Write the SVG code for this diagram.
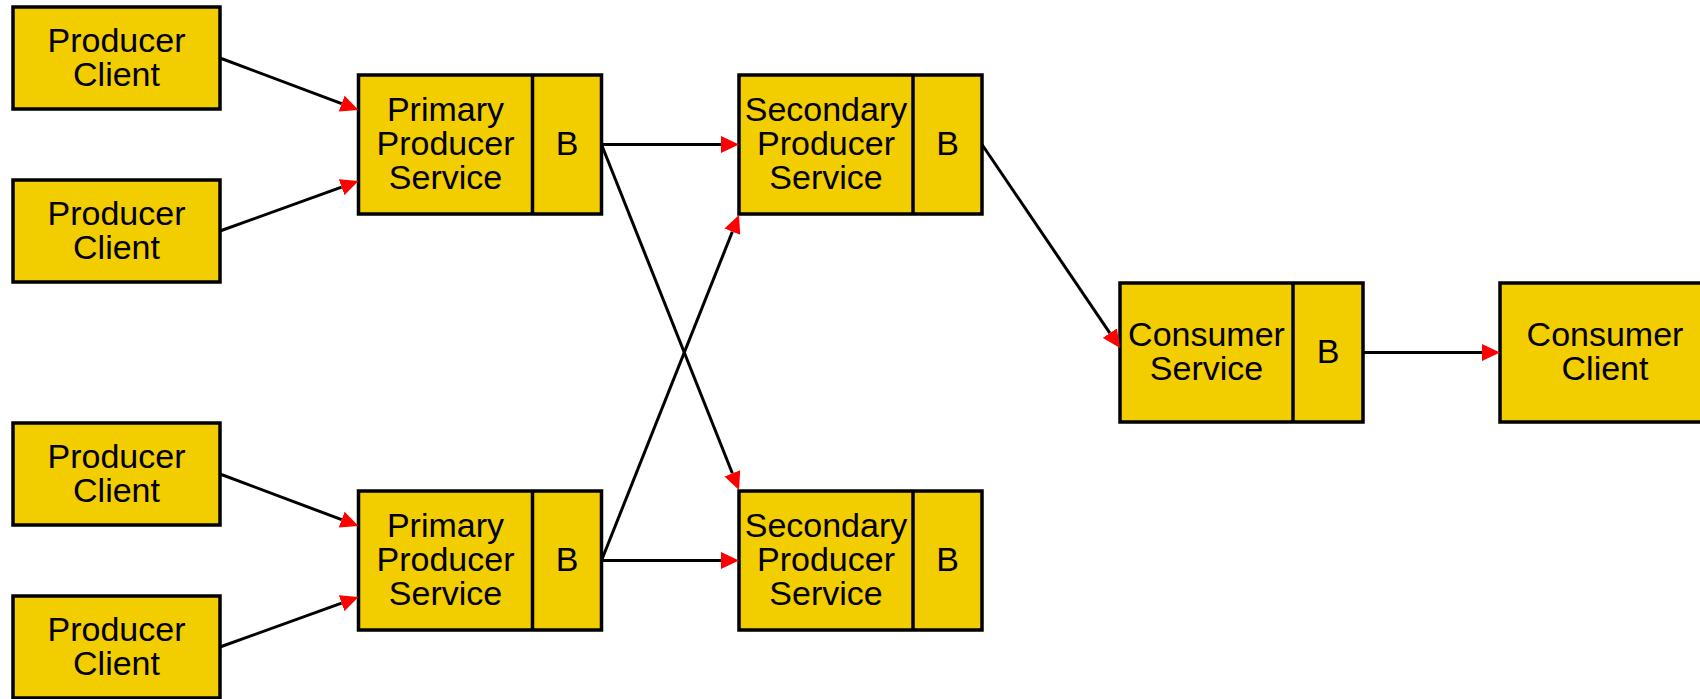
<svg xmlns="http://www.w3.org/2000/svg" width="1700" height="699" viewBox="0 0 1700 699">
  <style>
    .box { fill: #f2cd00; stroke: #000; stroke-width: 3.5; }
    .div { stroke: #000; stroke-width: 3.5; }
    .lbl { font-family: "Liberation Sans", Arial, sans-serif; font-size: 34px; fill: #000; text-anchor: middle; }
    .edge { stroke: #000; stroke-width: 3; fill: none; marker-end: url(#arrow); }
  </style>
  <defs>
    <marker id="arrow" markerUnits="userSpaceOnUse" markerWidth="18" markerHeight="17" viewBox="0 0 18 17" refX="0" refY="8.5" orient="auto">
      <path d="M0,0 L18,8.5 L0,17 z" fill="#ff0000"/>
    </marker>
  </defs>
  <rect width="1700" height="699" fill="#fff"/>

  <!-- producer clients -->
  <g id="producer-client-1">
    <rect class="box" x="13" y="7" width="207" height="102"/>
    <text class="lbl" x="116.5" y="52">Producer</text>
    <text class="lbl" x="116.5" y="86">Client</text>
  </g>
  <g id="producer-client-2">
    <rect class="box" x="13" y="180" width="207" height="102"/>
    <text class="lbl" x="116.5" y="225">Producer</text>
    <text class="lbl" x="116.5" y="259">Client</text>
  </g>
  <g id="producer-client-3">
    <rect class="box" x="13" y="423" width="207" height="102"/>
    <text class="lbl" x="116.5" y="468">Producer</text>
    <text class="lbl" x="116.5" y="502">Client</text>
  </g>
  <g id="producer-client-4">
    <rect class="box" x="13" y="596" width="207" height="102"/>
    <text class="lbl" x="116.5" y="641">Producer</text>
    <text class="lbl" x="116.5" y="675">Client</text>
  </g>

  <!-- primary producer services -->
  <g id="primary-producer-service-1">
    <rect class="box" x="358.5" y="75" width="243" height="139"/>
    <line class="div" x1="532.5" y1="75" x2="532.5" y2="214"/>
    <text class="lbl" x="445.5" y="121">Primary</text>
    <text class="lbl" x="445.5" y="155">Producer</text>
    <text class="lbl" x="445.5" y="189">Service</text>
    <text class="lbl" x="567" y="155">B</text>
  </g>
  <g id="primary-producer-service-2">
    <rect class="box" x="358.5" y="491" width="243" height="139"/>
    <line class="div" x1="532.5" y1="491" x2="532.5" y2="630"/>
    <text class="lbl" x="445.5" y="537">Primary</text>
    <text class="lbl" x="445.5" y="571">Producer</text>
    <text class="lbl" x="445.5" y="605">Service</text>
    <text class="lbl" x="567" y="571">B</text>
  </g>

  <!-- secondary producer services -->
  <g id="secondary-producer-service-1">
    <rect class="box" x="739" y="75" width="243" height="139"/>
    <line class="div" x1="913" y1="75" x2="913" y2="214"/>
    <text class="lbl" x="826" y="121">Secondary</text>
    <text class="lbl" x="826" y="155">Producer</text>
    <text class="lbl" x="826" y="189">Service</text>
    <text class="lbl" x="947.5" y="155">B</text>
  </g>
  <g id="secondary-producer-service-2">
    <rect class="box" x="739" y="491" width="243" height="139"/>
    <line class="div" x1="913" y1="491" x2="913" y2="630"/>
    <text class="lbl" x="826" y="537">Secondary</text>
    <text class="lbl" x="826" y="571">Producer</text>
    <text class="lbl" x="826" y="605">Service</text>
    <text class="lbl" x="947.5" y="571">B</text>
  </g>

  <!-- consumer side -->
  <g id="consumer-service">
    <rect class="box" x="1120" y="283" width="243" height="139"/>
    <line class="div" x1="1293" y1="283" x2="1293" y2="422"/>
    <text class="lbl" x="1206.5" y="346">Consumer</text>
    <text class="lbl" x="1206.5" y="380">Service</text>
    <text class="lbl" x="1328" y="363">B</text>
  </g>
  <g id="consumer-client">
    <rect class="box" x="1500" y="283" width="208" height="139"/>
    <text class="lbl" x="1605" y="346">Consumer</text>
    <text class="lbl" x="1605" y="380">Client</text>
  </g>

  <!-- connectors: each ends at the base of its arrowhead -->
  <g id="connectors">
    <line class="edge" x1="220" y1="58" x2="341.65" y2="103.67"/>
    <line class="edge" x1="220" y1="231" x2="341.57" y2="187.11"/>
    <line class="edge" x1="220" y1="474" x2="341.65" y2="519.67"/>
    <line class="edge" x1="220" y1="647" x2="341.57" y2="603.11"/>
    <line class="edge" x1="601.5" y1="144.5" x2="721" y2="144.5"/>
    <line class="edge" x1="601.5" y1="144.5" x2="732.34" y2="473.28"/>
    <line class="edge" x1="601.5" y1="560.5" x2="721" y2="560.5"/>
    <line class="edge" x1="601.5" y1="560.5" x2="732.34" y2="231.72"/>
    <line class="edge" x1="982" y1="144.5" x2="1109.9" y2="333.1"/>
    <line class="edge" x1="1363" y1="352.5" x2="1482" y2="352.5"/>
  </g>
</svg>
